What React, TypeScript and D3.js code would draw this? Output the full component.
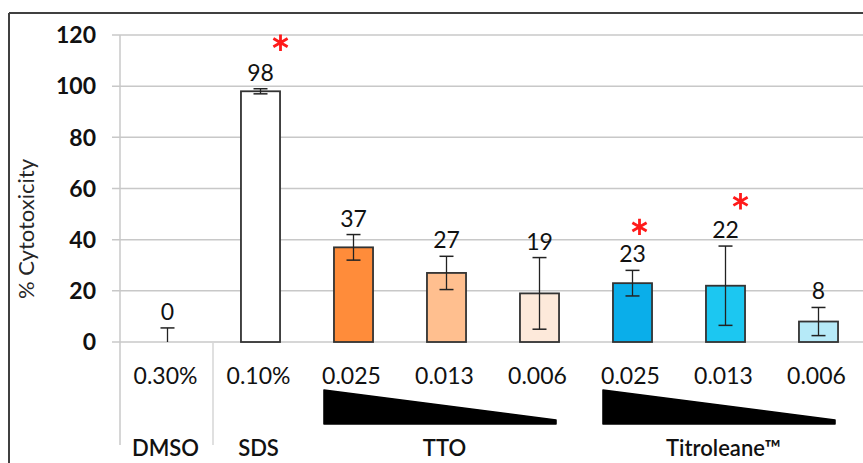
import { useEffect } from 'react';
import * as d3 from 'd3';

// bars, left to right
const concLabels = ['0.30%', '0.10%', '0.025', '0.013', '0.006', '0.025', '0.013', '0.006'];
const values = [0, 98, 37, 27, 19, 23, 22, 8];
const errors = [5.5, 1, 5, 6.5, 14, 5, 15.5, 5.5];
const barColors = ['none', '#ffffff', '#ff8c3a', '#ffbf8f', '#fde9da', '#0aaeea', '#1cc7f1', '#b6eaf8'];

// group labels under the concentrations
const groupNames = ['DMSO', 'SDS', 'TTO', 'Titroleane™'];
const groupFirst = [0, 1, 2, 5];
const groupLast = [0, 1, 4, 7];

// significance stars
const starBars = [1, 5, 6];
const starValues = [117, 45, 55];
const starShift = [20, 7, 15];

const yTicks = [0, 20, 40, 60, 80, 100, 120];

const W = 863;
const H = 463;
const font = 'Lato, "DejaVu Sans", sans-serif';

export default function App() {
  useEffect(() => {
    document.body.style.margin = '0';
  }, []);

  const idx = concLabels.map((_, i) => String(i));
  const x = d3.scaleBand().domain(idx).range([121, 865]).paddingInner(0.58).paddingOuter(0.29);
  const y = d3.scaleLinear().domain([0, 120]).range([342, 35]);
  const bw = x.bandwidth();
  const cx = (i: number) => (x(String(i)) ?? 0) + bw / 2;
  const star = d3.symbol().type(d3.symbolAsterisk).size(190)();

  return (
    <svg width={W} height={H} style={{ display: 'block', background: '#fff' }}>
      {/* frame */}
      <line x1={9} x2={W} y1={13} y2={13} stroke="#404040" strokeWidth={2} />
      <line x1={9} x2={9} y1={13} y2={H} stroke="#404040" strokeWidth={2} />

      {/* grid + ticks */}
      {yTicks.map((t) => (
        <g key={t}>
          <line x1={112} x2={W} y1={y(t)} y2={y(t)} stroke="#c8c8c8" strokeWidth={1.5} />
          <text x={96} y={y(t)} dy="0.36em" textAnchor="end" fontFamily={font} fontWeight="bold" fontSize={23} fill="#111">
            {t}
          </text>
        </g>
      ))}
      <line x1={120} x2={120} y1={y(120)} y2={445} stroke="#c8c8c8" strokeWidth={1.5} />
      <line x1={213} x2={213} y1={y(0)} y2={445} stroke="#d6d6d6" strokeWidth={1.5} />

      <text transform={`translate(34,${229}) rotate(-90)`} textAnchor="middle" fontFamily={font} fontSize={22} fill="#262626">
        % Cytotoxicity
      </text>

      {/* bars */}
      {values.map((v, i) => {
        const top = v + errors[i];
        const bottom = Math.max(0, v - errors[i]);
        const c = cx(i);
        return (
          <g key={i}>
            {v > 0 && (
              <rect x={x(String(i))} y={y(v)} width={bw} height={y(0) - y(v)} fill={barColors[i]} stroke="#333" strokeWidth={1.8} />
            )}
            <line x1={c} x2={c} y1={y(top)} y2={y(bottom)} stroke="#222" strokeWidth={1.3} />
            <line x1={c - 7} x2={c + 7} y1={y(top)} y2={y(top)} stroke="#222" strokeWidth={1.5} />
            {bottom > 0 && <line x1={c - 7} x2={c + 7} y1={y(bottom)} y2={y(bottom)} stroke="#222" strokeWidth={1.5} />}
            <text x={c} y={y(top) - 8} textAnchor="middle" fontFamily={font} fontSize={23} fill="#111">
              {v}
            </text>
            <text x={c - 2} y={384} textAnchor="middle" fontFamily={font} fontSize={23} fill="#111">
              {concLabels[i]}
            </text>
          </g>
        );
      })}

      {/* stars */}
      {starBars.map((b, k) => (
        <path key={k} d={star ?? ''} transform={`translate(${cx(b) + starShift[k]},${y(starValues[k])})`} fill="none" stroke="#ff1a1a" strokeWidth={2.8} />
      ))}

      {/* wedges + group names */}
      {groupNames.map((g, k) => {
        const x0 = (x(String(groupFirst[k])) ?? 0) - 10;
        const x1 = (x(String(groupLast[k])) ?? 0) + bw - 3;
        const mid = (cx(groupFirst[k]) + cx(groupLast[k])) / 2;
        return (
          <g key={g}>
            {groupFirst[k] !== groupLast[k] && (
              <path d={`M${x0},390 L${x1},420 L${x1},424 L${x0},424 Z`} fill="#000" stroke="#000" strokeWidth={1.5} strokeLinejoin="round" />
            )}
            <text x={mid - 2} y={456} textAnchor="middle" fontFamily={font} fontWeight="600" fontSize={22} fill="#111">
              {g}
            </text>
          </g>
        );
      })}
    </svg>
  );
}
